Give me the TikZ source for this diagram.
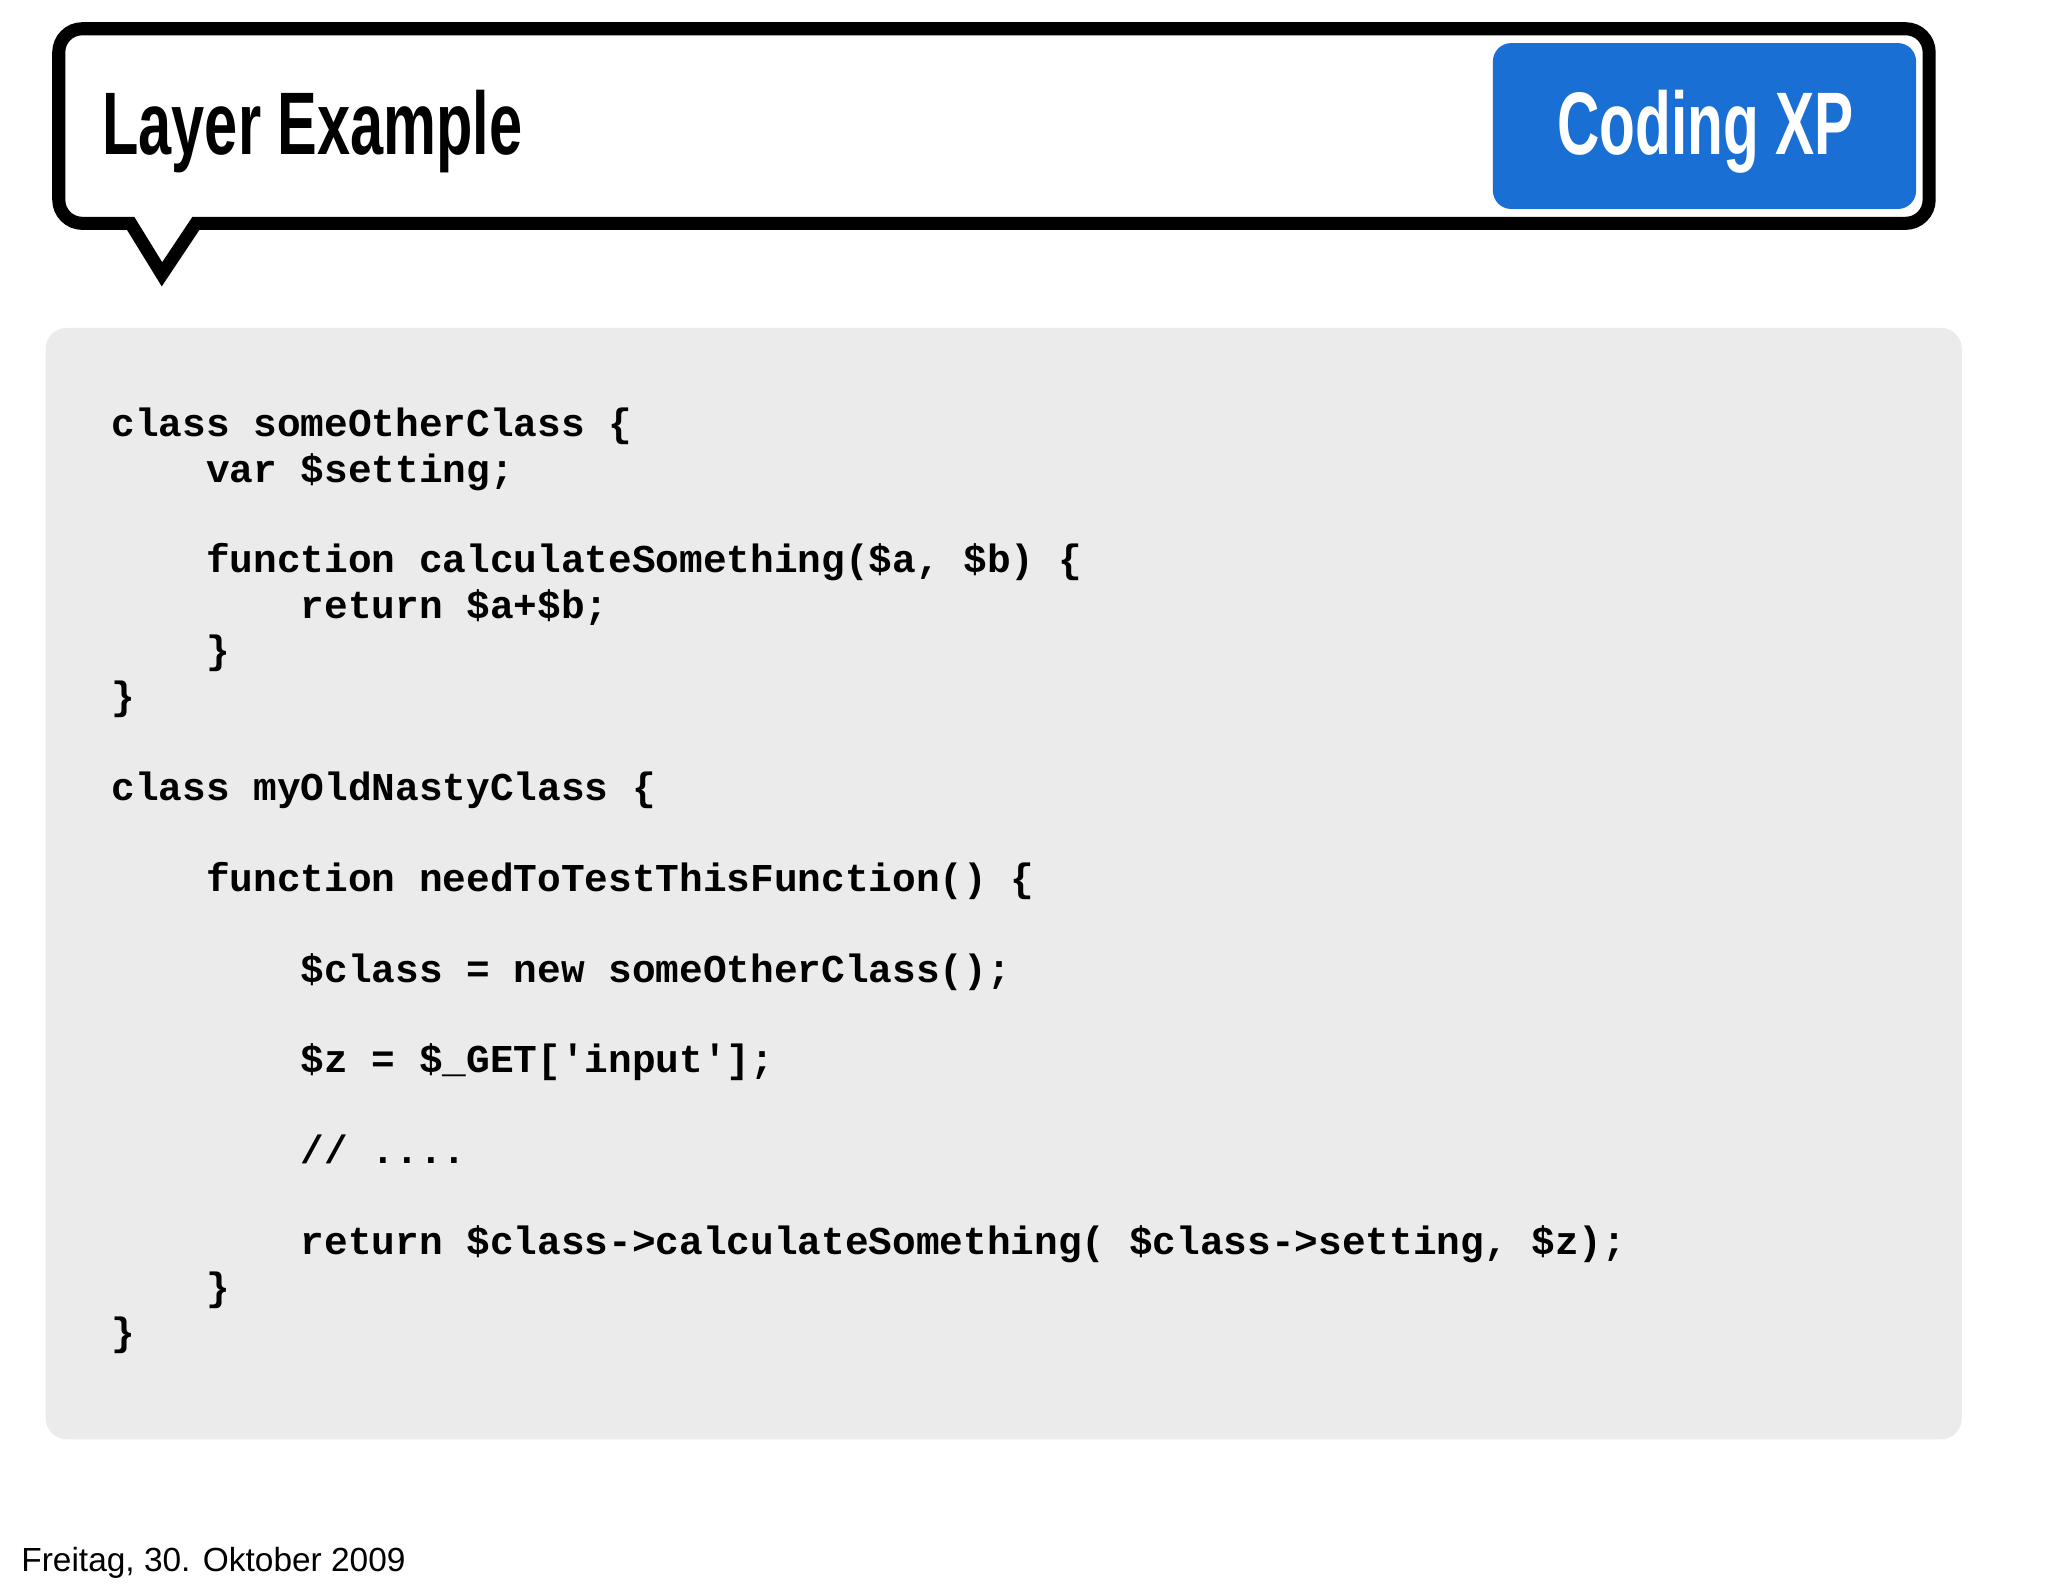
\documentclass[tikz,border=0pt]{standalone}
\usepackage{fontspec}
\setmainfont{Liberation Sans}
\newfontfamily\codefont{Liberation Mono}
\usetikzlibrary{positioning}
\definecolor{xpblue}{HTML}{1A6FD4}
\definecolor{codegray}{HTML}{EBEBEB}
\newcommand{\ind}{\hspace*{4\fontcharwd\font`x}}

\begin{document}
\begin{tikzpicture}[x=0.5pt,y=-0.5pt,
    callout/.style={draw=black,line width=5pt,fill=white,line join=miter},
    headtext/.style={inner sep=0pt,font=\fontsize{34pt}{34pt}\selectfont\bfseries},
    codeline/.style={inner sep=0pt,align=left,
        font=\codefont\bfseries\fontsize{15.1pt}{17.4pt}\selectfont}]
    \useasboundingbox (0,0) rectangle (1568,1220);

    % header bubble
    \draw[callout] (150,171) -- (124,210) -- (100,171)
        [rounded corners=9pt] -- (45,171) -- (45,22) -- (1477,22) -- (1477,171) [sharp corners] -- cycle;
    \fill[xpblue,rounded corners=7pt] (1143,33) rectangle (1467,160);
    \node[headtext,anchor=base west] (title) at (78,118) {\scalebox{0.67}[1]{Layer Example}};
    \node[headtext,anchor=base,text=white] (brand) at (1306,118) {\scalebox{0.66}[1]{Coding XP}};

    % code area
    \fill[codegray,rounded corners=8pt] (35,251) rectangle (1502,1102);
    \node[codeline,anchor=north west] (code) at (85,312) {%
class someOtherClass \{\\
\ind var \$setting;\\
\mbox{}\\
\ind function calculateSomething(\$a, \$b) \{\\
\ind\ind return \$a+\$b;\\
\ind \}\\
\}\\
\mbox{}\\
class myOldNastyClass \{\\
\mbox{}\\
\ind function needToTestThisFunction() \{\\
\mbox{}\\
\ind\ind \$class = new someOtherClass();\\
\mbox{}\\
\ind\ind \$z = \$\_GET['input'];\\
\mbox{}\\
\ind\ind // ....\\
\mbox{}\\
\ind\ind return \$class->calculateSomething( \$class->setting, \$z);\\
\ind \}\\
\}};

    % footer
    \node[inner sep=0pt,anchor=base west,font=\fontsize{12.8pt}{14pt}\selectfont] (date) at (16,1203) {Freitag, 30. Oktober 2009};
\end{tikzpicture}
\end{document}
